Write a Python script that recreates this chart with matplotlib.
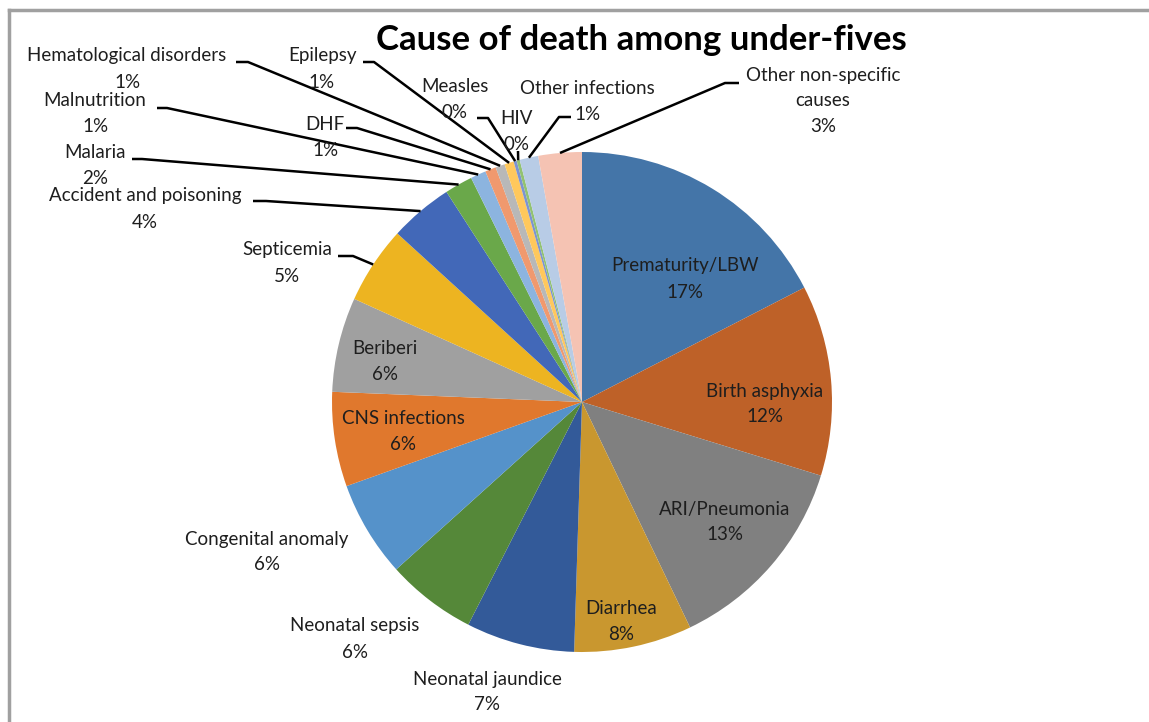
import math

import matplotlib

matplotlib.use("Agg")
import matplotlib.pyplot as plt
from matplotlib.lines import Line2D

W, H = 1149, 722

causes = [
    "Prematurity/LBW", "Birth asphyxia", "ARI/Pneumonia", "Diarrhea",
    "Neonatal jaundice", "Neonatal sepsis", "Congenital anomaly",
    "CNS infections", "Beriberi", "Septicemia", "Accident and poisoning",
    "Malaria", "Malnutrition", "DHF", "Hematological disorders", "Epilepsy",
    "Measles", "HIV", "Other infections", "Other non-specific\ncauses",
]
share = [
    17.4, 12.3, 13.1, 7.6, 7.0, 5.8, 6.2, 6.1, 6.1, 5.0,
    4.1, 1.8, 1.0, 0.7, 0.6, 0.6, 0.2, 0.2, 1.2, 2.8,
]
colors = [
    "#4475A8", "#BE6128", "#808080", "#C9972F", "#335A99", "#558839",
    "#5592CA", "#E0782D", "#A0A0A0", "#EDB421", "#4268B8", "#6AA84A",
    "#8CB4DF", "#F0996E", "#B8B8B8", "#FFC85C", "#7C93D1", "#92C272",
    "#B8CCE6", "#F5C3B3",
]

# label centres in pixels (x, y from top)
label_xy = [
    (685, 279), (765, 404), (725, 522), (621, 621), (487, 692),
    (355, 639), (267, 552), (403, 432), (385, 362), (287, 263),
    (145, 209), (95, 165), (95, 114), (325, 138), (127, 69),
    (322, 69), (455, 100), (516, 132), (587, 101), (823, 101),
]
# leader lines: (x start, x elbow, y) in pixels, None = no leader
leaders = [
    None, None, None, None, None, None, None, None, None,
    (338, 353, 256), (253, 266, 201), (132, 142, 159), (157, 167, 108),
    (346, 357, 128), (236, 248, 62), (363, 374, 62), (477, 488, 118),
    (518, 518, 151), (571, 559, 117), (739, 725, 83),
]

CX, CY, R = 582, 402, 250
LINE_STEP = 26  # px between label lines
FONT = "Lato"


def py(y):
    return H - y


fig = plt.figure(figsize=(W / 100, H / 100), dpi=100)
ax = fig.add_axes([0, 0, 1, 1])

wedges, _ = ax.pie(
    share, colors=colors, startangle=90, counterclock=False,
    center=(CX, py(CY)), radius=R, frame=True,
    wedgeprops=dict(linewidth=0),
)
ax.set_xlim(0, W)
ax.set_ylim(0, H)
ax.set_aspect("equal")
ax.axis("off")

total = sum(share)
for w, name, v, (lx, ly), ld in zip(wedges, causes, share, label_xy, leaders):
    rows = name.split("\n") + [f"{round(v / total * 100)}%"]
    for i, row in enumerate(rows):
        yy = ly + (i - (len(rows) - 1) / 2) * LINE_STEP
        ax.text(lx, py(yy), row, ha="center", va="center", fontsize=13.5,
                family=FONT, color="#1e1e1e")
    if ld is None:
        continue
    mid = math.radians((w.theta1 + w.theta2) / 2)
    ex = CX + R * math.cos(mid)
    ey = py(CY) + R * math.sin(mid)
    x0, x1, yl = ld
    ax.plot([x0, x1, ex], [py(yl), py(yl), ey], color="black", lw=1.8,
            solid_capstyle="butt")

ax.text(641, py(40), "Cause of death among under-fives", ha="center",
        va="center", fontsize=25, fontweight="bold", family=FONT,
        color="black")

# chart area border (runs off the right and bottom edges)
frame_kw = dict(color="#A0A0A0", lw=2.5, transform=fig.transFigure)
fig.add_artist(Line2D([9 / W, 1.2], [1 - 10 / H, 1 - 10 / H], **frame_kw))
fig.add_artist(Line2D([9 / W, 9 / W], [1 - 10 / H, -0.2], **frame_kw))

fig.savefig("out.png", dpi=100)
